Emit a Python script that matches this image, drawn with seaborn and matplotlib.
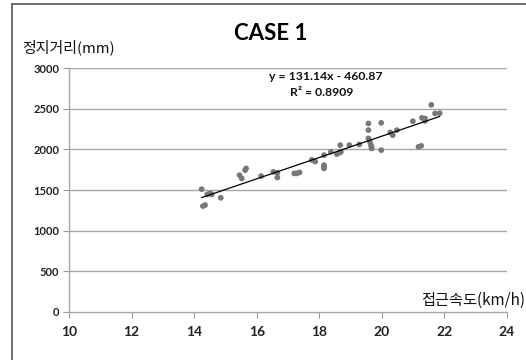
import matplotlib
matplotlib.use("Agg")
import matplotlib.pyplot as plt
from matplotlib.lines import Line2D
import numpy as np
import pandas as pd
import seaborn as sns

# ---- data ----
speed = [14.24, 14.28, 14.35, 14.42, 14.51, 14.56, 14.85, 15.45, 15.52, 15.63,
         15.66, 16.14, 16.53, 16.66, 16.66, 17.20, 17.28, 17.37, 17.76, 17.87,
         18.15, 18.15, 18.15, 18.15, 18.37, 18.56, 18.64, 18.69, 18.67, 18.96,
         19.28, 19.57, 19.57, 19.57, 19.62, 19.65, 19.67, 19.67, 19.98, 19.98,
         20.27, 20.35, 20.48, 20.99, 21.17, 21.26, 21.28, 21.38, 21.38, 21.58,
         21.70, 21.85]
distance = [1510, 1302, 1315, 1446, 1458, 1446, 1404, 1683, 1642, 1744,
            1765, 1671, 1723, 1711, 1654, 1704, 1704, 1716, 1870, 1850,
            1929, 1806, 1780, 1765, 1969, 1941, 1957, 1969, 2052, 2052,
            2060, 2318, 2236, 2134, 2092, 2052, 2031, 2011, 2326, 1990,
            2208, 2174, 2236, 2346, 2031, 2043, 2387, 2379, 2350, 2547,
            2441, 2445]
slope = 131.14
intercept = -460.87
r_squared = 0.8909
x_ticks = [10, 12, 14, 16, 18, 20, 22, 24]
y_ticks = [0, 500, 1000, 1500, 2000, 2500, 3000]

title = "CASE 1"
ylabel = "정지거리(mm)"
xlabel = "접근속도(km/h)"

df = pd.DataFrame({"speed": speed, "distance": distance})

sns.set_theme(style="white")
plt.rcParams["font.family"] = ["Lato", "Noto Sans CJK KR", "DejaVu Sans"]

fig = plt.figure(figsize=(5.26, 3.6), dpi=100)
ax = fig.add_axes([69/526, 1-312/360, (507-69)/526, (312-68)/360])

sns.scatterplot(data=df, x="speed", y="distance", ax=ax, color="#777777",
                s=17, edgecolor="none", zorder=3)

xl = np.array([min(speed), max(speed)])
ax.plot(xl, slope*xl + intercept, color="black", lw=0.9, zorder=4)

ax.set_xlim(x_ticks[0], x_ticks[-1])
ax.set_ylim(y_ticks[0], y_ticks[-1])
ax.set_xticks(x_ticks)
ax.set_yticks(y_ticks)
ax.set_xticklabels([str(t) for t in x_ticks], fontsize=10, fontweight="bold", color="#222222")
ax.set_yticklabels([str(t) for t in y_ticks], fontsize=8, fontweight="bold", color="#222222")
ax.set_xlabel("")
ax.set_ylabel("")
ax.tick_params(axis="x", direction="out", length=4, width=0.8, color="#999999", pad=6, bottom=True)
ax.tick_params(axis="y", direction="out", length=4, width=0.8, color="#999999", pad=3, left=True)

for yt in y_ticks[1:]:
    ax.axhline(yt, color="#a6a6a6", lw=1.0, zorder=1)

for side in ["top", "right"]:
    ax.spines[side].set_visible(False)
for side in ["left", "bottom"]:
    ax.spines[side].set_color("#a6a6a6")
    ax.spines[side].set_linewidth(1.0)

fig.text(271/526, 1-34/360, title, ha="center", va="center", fontsize=16,
         fontweight="bold", color="black")
fig.text(22/526, 1-47/360, ylabel, ha="left", va="center", fontsize=10.8,
         family=["Noto Sans CJK KR", "DejaVu Sans"], color="#111111")
fig.text(525/526, 1-300/360, xlabel, ha="right", va="center", fontsize=11,
         family=["Noto Sans CJK KR", "DejaVu Sans"], color="#111111")

fig.text(326/526, 1-77/360, f"y = {slope}x - {abs(intercept)}", ha="center",
         va="center", fontsize=8.8, fontweight="bold", color="#111111")
fig.text(322/526, 1-93/360, f"R² = {r_squared}", ha="center",
         va="center", fontsize=8.8, fontweight="bold", color="#111111")

# chart-area border (top and left edges visible)
fig.add_artist(Line2D([12/526, 12/526], [0, 1-4/360], color="#555555", lw=1.2,
                      transform=fig.transFigure))
fig.add_artist(Line2D([12/526, 1], [1-4/360, 1-4/360], color="#555555", lw=1.2,
                      transform=fig.transFigure))

fig.savefig("out.png", dpi=100)
